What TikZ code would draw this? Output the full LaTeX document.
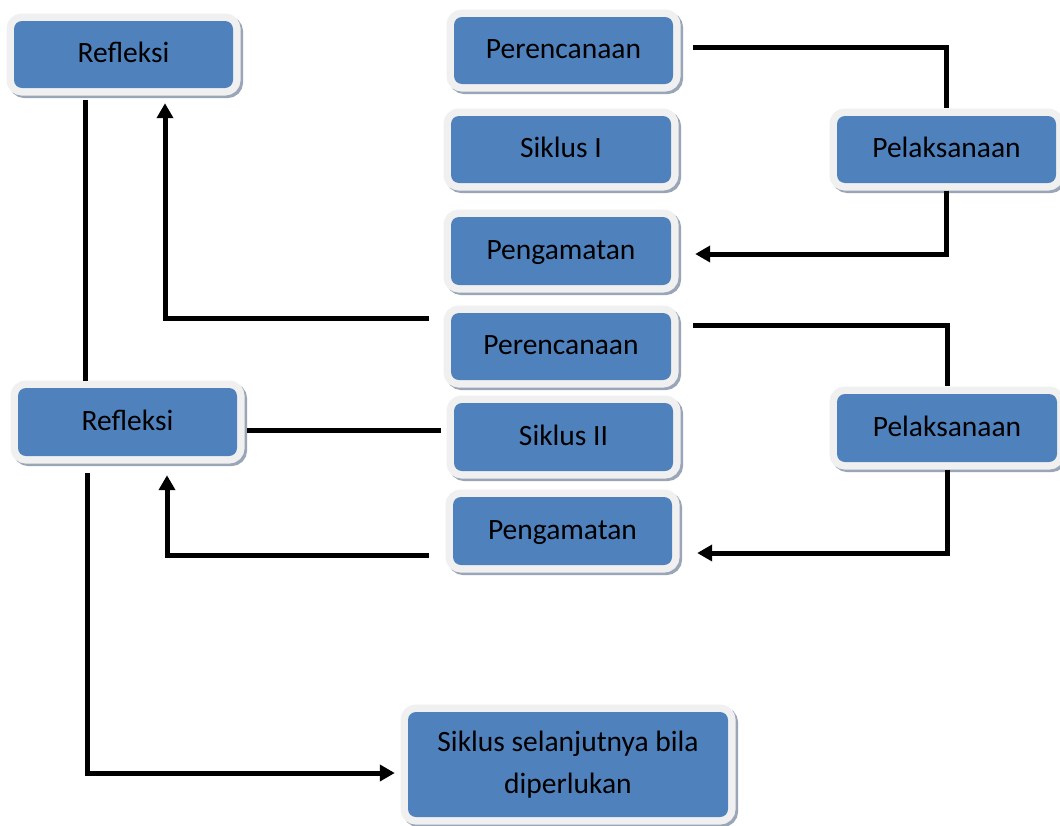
\documentclass[tikz,border=0pt]{standalone}
\usepackage{fontspec}
\setmainfont{Carlito}
\usetikzlibrary{arrows.meta}
\definecolor{boxblue}{HTML}{4F81BD}
\definecolor{framegray}{HTML}{F0F0F0}
\definecolor{shadowc}{HTML}{9AA6B8}
\begin{document}
\begin{tikzpicture}[x=1pt,y=-1pt,
  blk/.style={rounded corners=8pt, fill=boxblue, minimum width=219pt, minimum height=67pt,
    inner sep=0pt, font=\fontsize{29.5}{41}\selectfont, text height=24pt, text depth=8pt,
    preaction={draw=shadowc, line width=15pt, transform canvas={shift={(2.5pt,-2.5pt)}}},
    preaction={draw=framegray, line width=15pt}},
  conn/.style={line width=5pt},
  arr/.style={conn, -{Triangle[length=15pt,width=16pt]}}]
\useasboundingbox (0,0) rectangle (1060,825);
\fill[white] (0,0) rectangle (1060,825);

\node[blk] (refl1) at (123.5,54.5) {Refleksi};
\node[blk] (per1) at (563.5,50.5) {Perencanaan};
\node[blk, minimum width=220pt] (sik1) at (561,149.5) {Siklus I};
\node[blk, minimum width=220pt, minimum height=68pt] (pen1) at (561,251) {Pengamatan};
\node[blk, minimum width=220pt] (per2) at (561,346.5) {Perencanaan};
\node[blk, minimum height=68pt] (sik2) at (563.5,437) {Siklus II};
\node[blk, minimum height=68pt] (pen2) at (562.5,531) {Pengamatan};
\node[blk] (pel1) at (946.5,149.5) {Pelaksanaan};
\node[blk, minimum width=220pt, minimum height=68pt] (pel2) at (947,428) {Pelaksanaan};
\node[blk, minimum height=68pt] (refl2) at (127.5,422) {Refleksi};
\node[blk, minimum width=320pt, minimum height=105pt, align=center, text height=, text depth=] (next) at (568,764.5) {\raisebox{-2pt}{Siklus selanjutnya bila}\\[3pt]diperlukan};

\draw[conn] ([shift={(20pt,3.5pt)}]per1.east) -| ([yshift=7.5pt]pel1.north);
\draw[arr] ([yshift=-7.5pt]pel1.south) |- ([shift={(24pt,-3pt)}]pen1.east);
\draw[conn] ([shift={(22pt,21.5pt)}]per2.east) -| ([yshift=7.5pt]pel2.north);
\draw[arr] ([yshift=-7.5pt]pel2.south) |- ([shift={(25pt,-22pt)}]pen2.east);
\draw[arr] ([shift={(-22pt,28.5pt)}]per2.west) -| ([shift={(41.5pt,-15pt)}]refl1.south);
\draw[conn] ([shift={(-38.5pt,-12pt)}]refl1.south) -- ([shift={(-42.5pt,7pt)}]refl2.north);
\draw[conn] ([shift={(10pt,-8pt)}]refl2.east) -- ([shift={(-13pt,7pt)}]sik2.west);
\draw[arr] ([shift={(-24pt,-24pt)}]pen2.west) -| ([shift={(39.5pt,-19pt)}]refl2.south);
\draw[arr] ([shift={(-40.5pt,-17pt)}]refl2.south) |- ([shift={(-13pt,-8.5pt)}]next.west);
\end{tikzpicture}
\end{document}
